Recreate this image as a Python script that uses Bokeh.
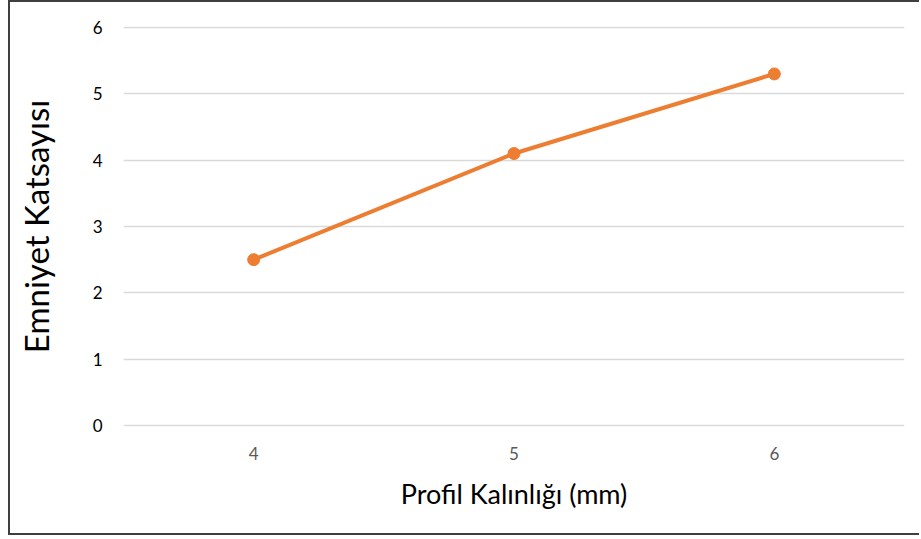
from bokeh.plotting import figure
from bokeh.models import FixedTicker, Range1d
from bokeh.embed import file_html
from bokeh.resources import INLINE

# Profile thickness (mm) and the resulting safety factor
thickness = ["4", "5", "6"]
safety_factor = [2.5, 4.1, 5.3]
y_ticks = [0, 1, 2, 3, 4, 5, 6]

FONT = "Lato"
ORANGE = "#ED7D31"

p = figure(
    x_range=thickness,
    y_range=Range1d(-0.015, 6.015),
    width=911,
    height=535,
    output_backend="svg",
    toolbar_location=None,
    min_border_left=113,
    min_border_right=17,
    min_border_top=24,
    min_border_bottom=111,
)
p.styles = {
    "border-left": "2px solid #3f3f3f",
    "border-top": "2px solid #3f3f3f",
    "border-bottom": "2px solid #3f3f3f",
    "margin-left": "8px",
}
p.x_range.range_padding = 0
p.outline_line_color = None
p.background_fill_color = "white"
p.border_fill_color = "white"

p.line(thickness, safety_factor, line_color=ORANGE, line_width=4)
p.scatter(thickness, safety_factor, size=12, fill_color=ORANGE, line_color=ORANGE)

# grid
p.xgrid.grid_line_color = None
p.ygrid.grid_line_color = "#d9d9d9"
p.ygrid.grid_line_width = 1.5

# y axis
p.yaxis.ticker = FixedTicker(ticks=y_ticks)
p.yaxis.axis_line_color = None
p.yaxis.major_tick_line_color = None
p.yaxis.minor_tick_line_color = None
p.yaxis.major_label_standoff = 15
p.yaxis.major_label_text_font = FONT
p.yaxis.major_label_text_font_size = "17px"
p.yaxis.major_label_text_color = "#000000"
p.yaxis.axis_label = "Emniyet Katsayısı"
p.yaxis.axis_label_text_font = FONT
p.yaxis.axis_label_text_font_size = "33px"
p.yaxis.axis_label_text_font_style = "normal"
p.yaxis.axis_label_text_color = "#000000"
p.yaxis.axis_label_standoff = 34

# x axis
p.xaxis.axis_line_color = None
p.xaxis.major_tick_line_color = None
p.xaxis.minor_tick_line_color = None
p.xaxis.major_label_standoff = 14
p.xaxis.major_label_text_font = FONT
p.xaxis.major_label_text_font_size = "17px"
p.xaxis.major_label_text_color = "#595959"
p.xaxis.axis_label = "Profil Kalınlığı (mm)"
p.xaxis.axis_label_text_font = FONT
p.xaxis.axis_label_text_font_size = "27px"
p.xaxis.axis_label_text_font_style = "normal"
p.xaxis.axis_label_text_color = "#000000"
p.xaxis.axis_label_standoff = 14

open("out.html", "w").write(file_html(p, INLINE))
